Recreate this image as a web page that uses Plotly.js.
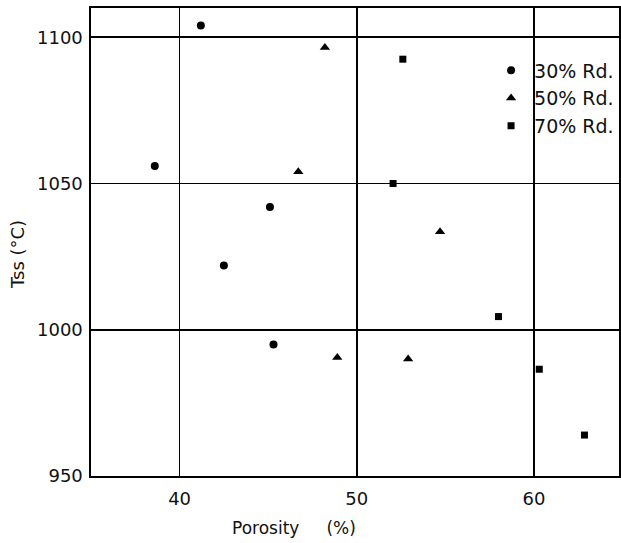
<!DOCTYPE html>
<html>
<head>
<meta charset="utf-8">
<script src="https://cdn.plot.ly/plotly-3.0.1.min.js"></script>
<style>html,body{margin:0;padding:0;background:#fff;}#chart{width:621px;height:543px;}</style>
</head>
<body>
<div id="chart"></div>
<script>
// Data
const porosity30 = [38.6, 41.2, 42.5, 45.1, 45.3];
const tss30      = [1056, 1104, 1022, 1042, 995];
const porosity50 = [46.7, 48.2, 48.9, 52.9, 54.7];
const tss50      = [1054, 1096.5, 990.5, 990, 1033.5];
const porosity70 = [52.05, 52.6, 58.0, 60.3, 62.85];
const tss70      = [1050, 1092.5, 1004.5, 986.5, 964];
const seriesNames = ["30% Rd.", "50% Rd.", "70% Rd."];
const xTicks = [40, 50, 60];
const yTicks = [950, 1000, 1050, 1100];

const FONT = "DejaVu Sans, Liberation Sans, sans-serif";

const traces = [
  {x: porosity30, y: tss30, name: seriesNames[0], type: "scatter", mode: "markers",
   marker: {symbol: "circle", size: 8, color: "#000"}},
  {x: porosity50, y: tss50, name: seriesNames[1], type: "scatter", mode: "markers",
   marker: {symbol: "triangle-up", size: 9, color: "#000"}},
  {x: porosity70, y: tss70, name: seriesNames[2], type: "scatter", mode: "markers",
   marker: {symbol: "square", size: 7, color: "#000"}}
];

function axisBase() {
  return {
    showgrid: true, gridcolor: "#000", gridwidth: 1.6,
    showline: true, linecolor: "#000", linewidth: 1.6, mirror: true,
    zeroline: false, ticks: "", fixedrange: true,
    tickfont: {family: FONT, size: 18, color: "#111"}
  };
}

const layout = {
  width: 621, height: 543, autosize: false,
  margin: {l: 91, r: 2, t: 8, b: 67},
  paper_bgcolor: "#fff", plot_bgcolor: "#fff",
  font: {family: FONT, color: "#111"},
  xaxis: Object.assign(axisBase(), {range: [35, 64.8], tickvals: xTicks, ticklabelstandoff: 6}),
  yaxis: Object.assign(axisBase(), {range: [950, 1110], tickvals: yTicks, ticklabelstandoff: 3}),
  showlegend: true,
  legend: {x: 0.752, y: 0.907, xanchor: "left", yanchor: "top", itemwidth: 36,
           bgcolor: "rgba(255,255,255,0)", borderwidth: 0,
           font: {family: FONT, size: 19, color: "#111"}},
  annotations: [
    {text: "Porosity&nbsp;&nbsp;&nbsp;&nbsp;&nbsp;(%)", xref: "paper", yref: "paper",
     x: 0.384, y: -0.111, xanchor: "center", yanchor: "middle", showarrow: false,
     font: {family: FONT, size: 17, color: "#111"}},
    {text: "Tss (°C)", xref: "paper", yref: "paper", textangle: -90,
     x: (17 - 91) / 528, y: 1 - (255 - 8) / 468, xanchor: "center", yanchor: "middle", showarrow: false,
     font: {family: FONT, size: 18, color: "#111"}}
  ]
};

Plotly.newPlot("chart", traces, layout, {displayModeBar: false, staticPlot: true});
</script>
</body>
</html>
